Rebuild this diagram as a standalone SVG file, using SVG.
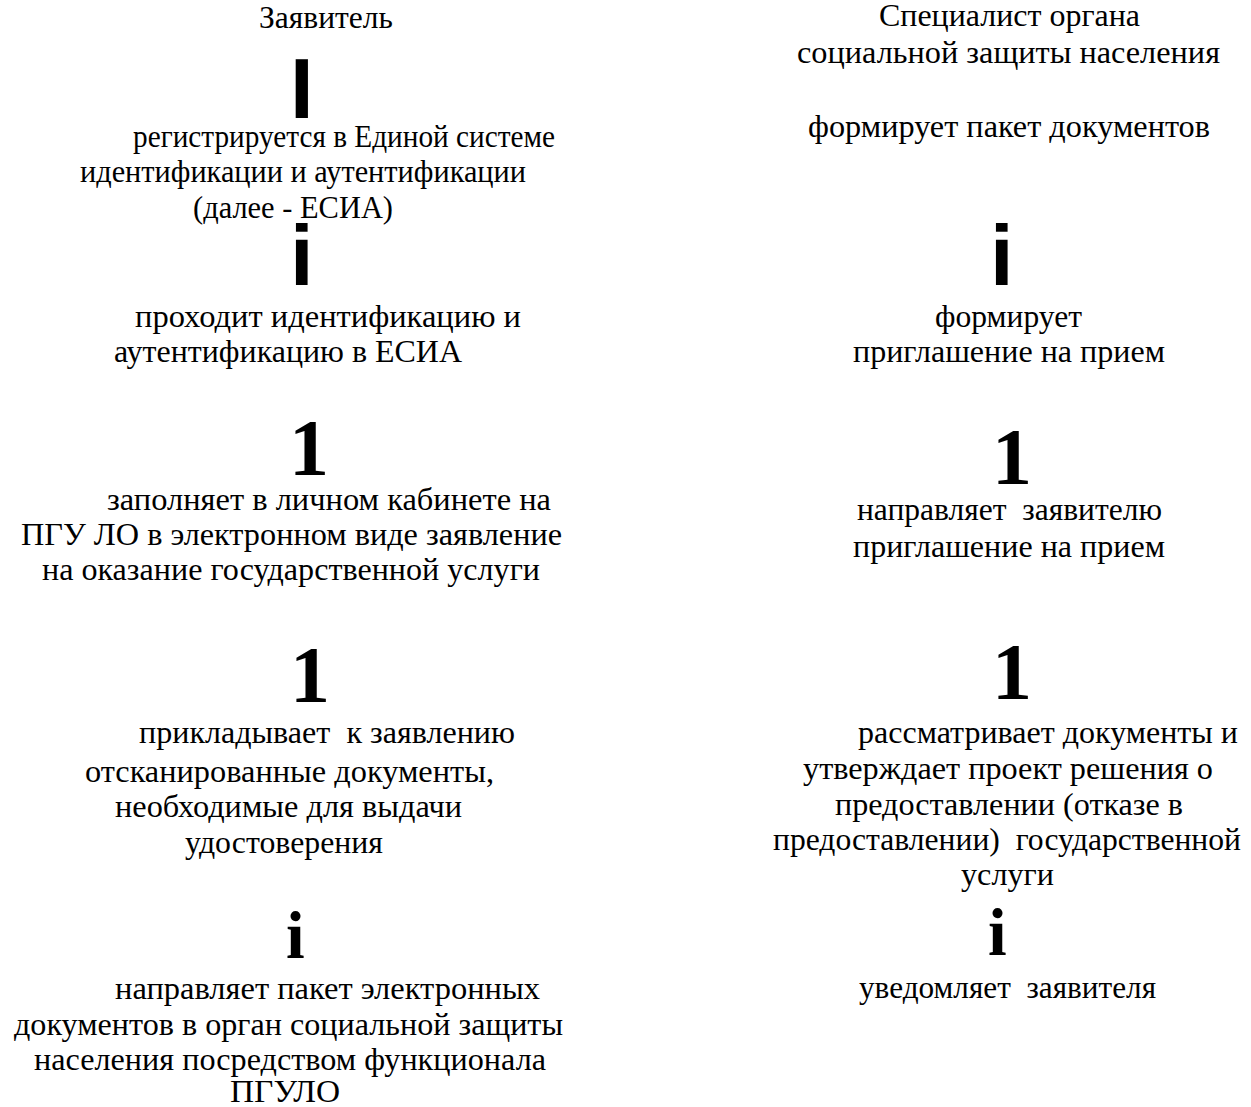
<svg xmlns="http://www.w3.org/2000/svg" width="1251" height="1107" viewBox="0 0 1251 1107">
<style>
text{font-family:"Liberation Serif","Times New Roman",serif;fill:#000;white-space:pre}
.t{font-size:32px}
.bar{font-family:"Liberation Sans",Arial,sans-serif;font-weight:bold;font-size:85px}
.one{font-weight:bold;font-size:80px}
.ii{font-weight:bold;font-size:67px}
</style>
<rect width="1251" height="1107" fill="#fff"/>
<g id="connectors">
<text class="bar" x="290" y="118">I</text>
<text class="bar" x="290" y="285">i</text>
<text class="one" x="289" y="475">1</text>
<text class="one" x="290" y="702">1</text>
<text class="ii" x="286" y="958">i</text>
<text class="bar" x="990" y="285">i</text>
<text class="one" x="992" y="484">1</text>
<text class="one" x="992" y="699">1</text>
<text class="ii" x="988" y="955">i</text>
</g>
<g id="n-zayavitel"><text class="t" x="259" y="28" textLength="134" lengthAdjust="spacingAndGlyphs">Заявитель</text></g>
<g id="n-reg">
<text class="t" x="133" y="147" textLength="422" lengthAdjust="spacingAndGlyphs">регистрируется в Единой системе</text>
<text class="t" x="80" y="182" textLength="446" lengthAdjust="spacingAndGlyphs">идентификации и аутентификации</text>
<text class="t" x="193" y="218" textLength="200" lengthAdjust="spacingAndGlyphs">(далее - ЕСИА)</text>
</g>
<g id="n-auth">
<text class="t" x="135" y="327" textLength="386" lengthAdjust="spacingAndGlyphs">проходит идентификацию и</text>
<text class="t" x="114" y="362" textLength="348" lengthAdjust="spacingAndGlyphs">аутентификацию в ЕСИА</text>
</g>
<g id="n-fill">
<text class="t" x="107" y="510" textLength="444" lengthAdjust="spacingAndGlyphs">заполняет в личном кабинете на</text>
<text class="t" x="21" y="545" textLength="541" lengthAdjust="spacingAndGlyphs">ПГУ ЛО в электронном виде заявление</text>
<text class="t" x="42" y="580" textLength="498" lengthAdjust="spacingAndGlyphs">на оказание государственной услуги</text>
</g>
<g id="n-attach">
<text class="t" x="139" y="743" textLength="376" lengthAdjust="spacingAndGlyphs">прикладывает  к заявлению</text>
<text class="t" x="85" y="782" textLength="409" lengthAdjust="spacingAndGlyphs">отсканированные документы,</text>
<text class="t" x="115" y="817" textLength="347" lengthAdjust="spacingAndGlyphs">необходимые для выдачи</text>
<text class="t" x="185" y="853" textLength="198" lengthAdjust="spacingAndGlyphs">удостоверения</text>
</g>
<g id="n-send">
<text class="t" x="115" y="999" textLength="425" lengthAdjust="spacingAndGlyphs">направляет пакет электронных</text>
<text class="t" x="14" y="1035" textLength="549" lengthAdjust="spacingAndGlyphs">документов в орган социальной защиты</text>
<text class="t" x="34" y="1070" textLength="512" lengthAdjust="spacingAndGlyphs">населения посредством функционала</text>
<text class="t" x="230" y="1102" textLength="110" lengthAdjust="spacingAndGlyphs">ПГУЛО</text>
</g>
<g id="n-specialist">
<text class="t" x="879" y="26" textLength="261" lengthAdjust="spacingAndGlyphs">Специалист органа</text>
<text class="t" x="797" y="63" textLength="423" lengthAdjust="spacingAndGlyphs">социальной защиты населения</text>
</g>
<g id="n-packet"><text class="t" x="808" y="137" textLength="402" lengthAdjust="spacingAndGlyphs">формирует пакет документов</text></g>
<g id="n-invite">
<text class="t" x="935" y="327" textLength="147" lengthAdjust="spacingAndGlyphs">формирует</text>
<text class="t" x="853" y="362" textLength="312" lengthAdjust="spacingAndGlyphs">приглашение на прием</text>
</g>
<g id="n-sendinvite">
<text class="t" x="857" y="520" textLength="305" lengthAdjust="spacingAndGlyphs">направляет  заявителю</text>
<text class="t" x="853" y="557" textLength="312" lengthAdjust="spacingAndGlyphs">приглашение на прием</text>
</g>
<g id="n-review">
<text class="t" x="858" y="743" textLength="380" lengthAdjust="spacingAndGlyphs">рассматривает документы и</text>
<text class="t" x="803" y="779" textLength="410" lengthAdjust="spacingAndGlyphs">утверждает проект решения о</text>
<text class="t" x="835" y="815" textLength="348" lengthAdjust="spacingAndGlyphs">предоставлении (отказе в</text>
<text class="t" x="773" y="850" textLength="468" lengthAdjust="spacingAndGlyphs">предоставлении)  государственной</text>
<text class="t" x="961" y="885" textLength="93" lengthAdjust="spacingAndGlyphs">услуги</text>
</g>
<g id="n-notify"><text class="t" x="859" y="998" textLength="297" lengthAdjust="spacingAndGlyphs">уведомляет  заявителя</text></g>
</svg>
